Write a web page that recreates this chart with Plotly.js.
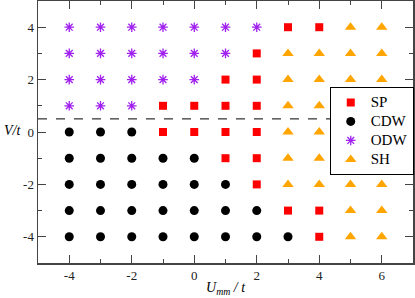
<!DOCTYPE html>
<html>
<head>
<meta charset="utf-8">
<script src="https://cdn.plot.ly/plotly-3.0.1.min.js"></script>
<style>html,body{margin:0;padding:0;background:#fff;}#chart{width:415px;height:298px;}</style>
</head>
<body>
<div id="chart"></div>
<script>
// Phase diagram data (U_mm/t, V/t)
const spX  = [3, 4, 2, 1, 2, -1, 0, 1, 2, -1, 0, 1, 2, 1, 2, 2, 3, 4, 4];
const spY  = [4, 4, 3, 2, 2, 1, 1, 1, 1, 0, 0, 0, 0, -1, -1, -2, -3, -3, -4];
const cdwX = [-4, -3, -2, -4, -3, -2, -1, 0, -4, -3, -2, -1, 0, 1, -4, -3, -2, -1, 0, 1, 2, -4, -3, -2, -1, 0, 1, 2, 3];
const cdwY = [0, 0, 0, -1, -1, -1, -1, -1, -2, -2, -2, -2, -2, -2, -3, -3, -3, -3, -3, -3, -3, -4, -4, -4, -4, -4, -4, -4, -4];
const odwX = [-4, -3, -2, -1, 0, 1, 2, -4, -3, -2, -1, 0, 1, -4, -3, -2, -1, 0, -4, -3, -2];
const odwY = [4, 4, 4, 4, 4, 4, 4, 3, 3, 3, 3, 3, 3, 2, 2, 2, 2, 2, 1, 1, 1];
const shX  = [5, 6, 3, 4, 5, 6, 3, 4, 5, 6, 3, 4, 5, 6, 3, 4, 5, 6, 3, 4, 5, 6, 3, 4, 5, 6, 5, 6, 5, 6];
const shY  = [4, 4, 3, 3, 3, 3, 2, 2, 2, 2, 1, 1, 1, 1, 0, 0, 0, 0, -1, -1, -1, -1, -2, -2, -2, -2, -3, -3, -4, -4];
const phaseNames = ['SP', 'CDW', 'ODW', 'SH'];
const boundaryV = 0.5;
const xTicks = [-4, -2, 0, 2, 4, 6];
const yTicks = [-4, -2, 0, 2, 4];

const serif = 'Liberation Serif, Times New Roman, serif';
const legName = n => '<span style="font-size:15px">' + n + '</span>';
const traces = [
  {x: spX, y: spY, name: legName(phaseNames[0]), mode: 'markers', type: 'scatter',
   marker: {symbol: 'square', size: 8, color: '#ff0000'}},
  {x: cdwX, y: cdwY, name: legName(phaseNames[1]), mode: 'markers', type: 'scatter',
   marker: {symbol: 'circle', size: 9, color: '#000000'}},
  {x: odwX, y: odwY, name: legName(phaseNames[2]), mode: 'markers', type: 'scatter',
   marker: {symbol: 'asterisk', size: 8, color: '#a020f0', line: {color: '#a020f0', width: 1.3}}},
  {x: shX, y: shY, name: legName(phaseNames[3]), mode: 'markers', type: 'scatter',
   marker: {symbol: 'triangle-up', size: 10, color: '#ffa500'}}
];

const axisCommon = {
  showgrid: false, zeroline: false, showline: true, linecolor: '#444', linewidth: 1.5,
  mirror: 'allticks', ticks: 'inside', ticklen: 8, tickcolor: '#444', tickwidth: 1,
  tickfont: {family: serif, size: 13, color: '#222'},
  minor: {ticks: 'inside', ticklen: 4, dtick: 1, tickcolor: '#444', tickwidth: 1}
};

const layout = {
  width: 415, height: 298,
  margin: {l: 38, r: 2, t: 1, b: 35},
  paper_bgcolor: '#fff', plot_bgcolor: '#fff',
  showlegend: true,
  xaxis: Object.assign({}, axisCommon, {range: [-5, 7], tickvals: xTicks, ticktext: xTicks.map(String)}),
  yaxis: Object.assign({}, axisCommon, {range: [-5, 5], tickvals: yTicks, ticktext: yTicks.map(String)}),
  legend: {x: 1.002, y: 0.672, xanchor: 'right', yanchor: 'top', bgcolor: '#fff',
           bordercolor: '#000', borderwidth: 1, font: {family: serif, size: 12, color: '#000'},
           tracegroupgap: 0},
  shapes: [{type: 'line', xref: 'paper', x0: 0, x1: 1, yref: 'y', y0: boundaryV, y1: boundaryV,
            line: {color: '#000', width: 1, dash: 'dash'}}],
  annotations: [
    {xref: 'paper', yref: 'paper', x: -0.067, y: 0.504, xanchor: 'center', yanchor: 'middle', showarrow: false,
     text: '<i>V/t</i>', font: {family: serif, size: 14, color: '#000'}},
    {xref: 'paper', yref: 'paper', x: 0.50, y: -0.058, xanchor: 'center', yanchor: 'top', showarrow: false,
     text: '<i>U<sub>mm</sub> / t</i>', font: {family: serif, size: 14, color: '#000'}}
  ]
};

Plotly.newPlot('chart', traces, layout, {displayModeBar: false, staticPlot: true});
</script>
</body>
</html>
